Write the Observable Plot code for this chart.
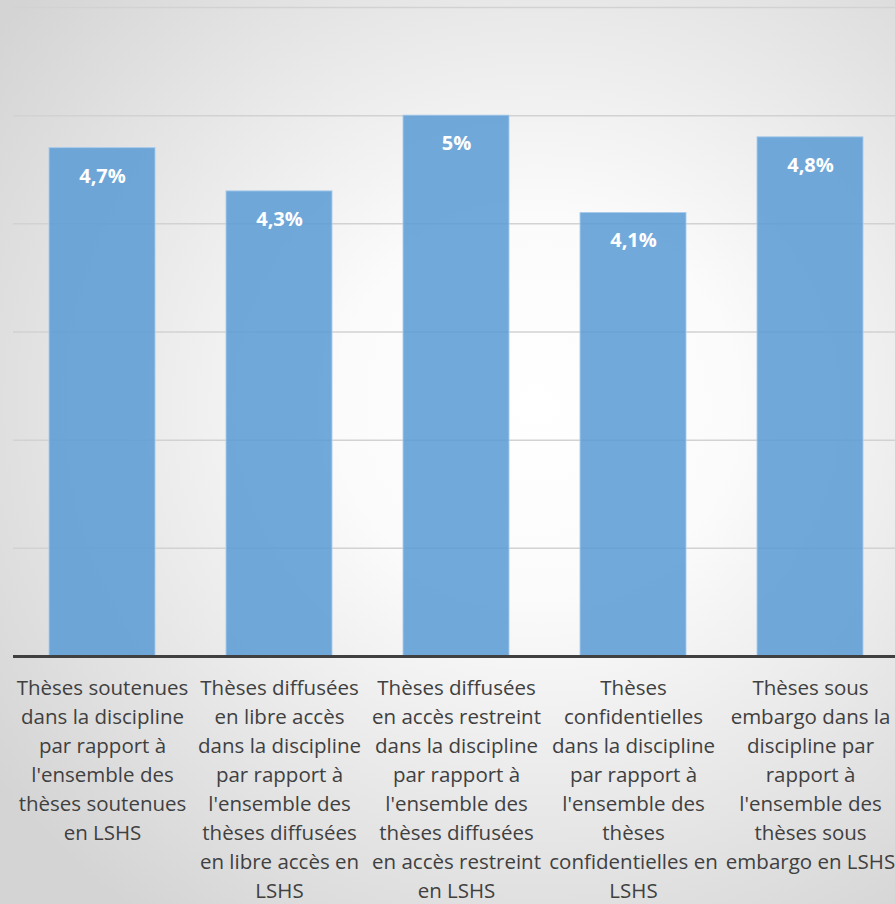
<!DOCTYPE html>
<html>
<head>
<meta charset="utf-8">
<script src="https://cdn.jsdelivr.net/npm/d3@7"></script>
<script src="https://cdn.jsdelivr.net/npm/@observablehq/plot@0.6"></script>
<style>
  html, body { margin: 0; padding: 0; }
  body {
    width: 895px; height: 904px; overflow: hidden;
    background: radial-gradient(ellipse 75% 70% at 60% 45%, #ffffff 0%, #fbfbfb 30%, #d4d4d4 100%);
  }
  #chart svg { background: transparent; }
</style>
</head>
<body>
<div id="chart"></div>
<script>
const categories = [
  "Thèses soutenues\ndans la discipline\npar rapport à\nl'ensemble des\nthèses soutenues\nen LSHS",
  "Thèses diffusées\nen libre accès\ndans la discipline\npar rapport à\nl'ensemble des\nthèses diffusées\nen libre accès en\nLSHS",
  "Thèses diffusées\nen accès restreint\ndans la discipline\npar rapport à\nl'ensemble des\nthèses diffusées\nen accès restreint\nen LSHS",
  "Thèses\nconfidentielles\ndans la discipline\npar rapport à\nl'ensemble des\nthèses\nconfidentielles en\nLSHS",
  "Thèses sous\nembargo dans la\ndiscipline par\nrapport à\nl'ensemble des\nthèses sous\nembargo en LSHS"
];
const values = [4.7, 4.3, 5.0, 4.1, 4.8];
const valueLabels = ["4,7%", "4,3%", "5%", "4,1%", "4,8%"];
const gridValues = [1, 2, 3, 4, 5, 6];

const data = categories.map((c, i) => ({cat: c, value: values[i], label: valueLabels[i]}));

const chart = Plot.plot({
  width: 895,
  height: 904,
  marginTop: 7,
  marginBottom: 248,
  marginLeft: 13,
  marginRight: 0,
  style: {background: "transparent", fontFamily: "'Open Sans', sans-serif", color: "#404040"},
  x: {domain: categories, range: [13, 899], paddingInner: 0.4, paddingOuter: 0.2, label: null},
  y: {domain: [0, 6], axis: null},
  marks: [
    Plot.ruleY(gridValues, {y: d => d, stroke: "#d2d2d2", strokeWidth: 1.5}),
    Plot.barY(data, {x: "cat", y: "value", fill: "#5b9bd5", fillOpacity: 0.86, stroke: "#a9cbeb", strokeWidth: 1, strokeOpacity: 0.9}),
    Plot.text(data, {x: "cat", y: "value", text: "label", dy: 28, fill: "white", fontWeight: "bold", fontSize: 20}),
    Plot.ruleY([0], {y: d => d, stroke: "#404040", strokeWidth: 3}),
    Plot.axisX({tickSize: 0, tickPadding: 18, fontSize: 20.5, lineHeight: 1.415, lineAnchor: "top", fill: "#404040", label: null})
  ]
});
document.getElementById("chart").append(chart);
</script>
</body>
</html>
